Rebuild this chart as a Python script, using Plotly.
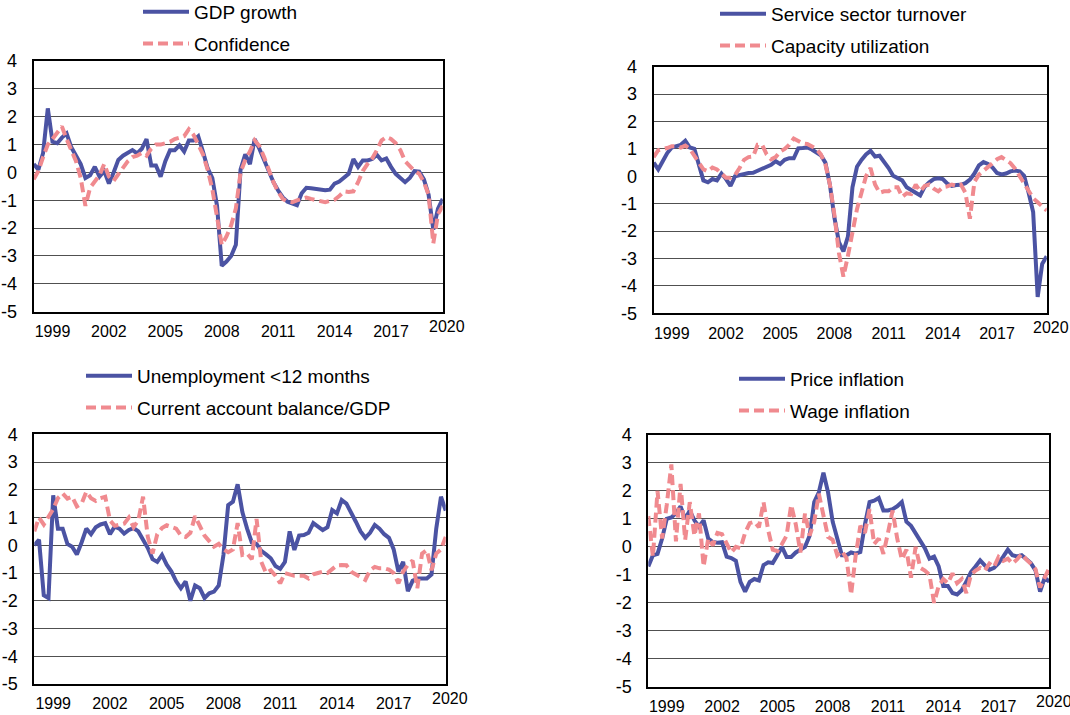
import plotly.graph_objects as go

# ---------------- data (quarterly, 1998Q1 .. 2019Q4 positions) ----------------
START_YEAR = 1998
N_Q = 88
quarters = [START_YEAR + i / 4 for i in range(N_Q)]

gdp_growth = [
    0.3, 0.1, 0.7, 2.3, 1.1, 1.05, 1.25, 1.4,
    0.9, 0.6, 0.3, -0.2, -0.1, 0.2, -0.15, 0.05,
    -0.4, 0.0, 0.45, 0.6, 0.72, 0.8, 0.68, 0.85,
    1.2, 0.25, 0.25, -0.15, 0.4, 0.8, 0.8, 0.97,
    0.75, 1.15, 1.15, 1.3, 0.75, 0.15, -0.2, -1.2,
    -3.35, -3.2, -3.0, -2.6, 0.1, 0.65, 0.3, 1.2,
    0.85, 0.42, 0.05, -0.35, -0.65, -0.9, -1.05, -1.12,
    -1.18, -0.75, -0.55, -0.57, -0.59, -0.61, -0.64, -0.62,
    -0.4, -0.33, -0.17, -0.05, 0.48, 0.2, 0.43, 0.43,
    0.48, 0.63, 0.43, 0.5, 0.2, -0.05, -0.2, -0.35,
    -0.2, 0.05, 0.03, -0.25, -0.8, -2.05, -1.3, -0.95,
]
confidence = [
    -0.25, 0.05, 0.55, 1.0, 1.2, 1.4, 1.65, 1.2,
    0.75, 0.4, -0.2, -1.2, -0.55, -0.35, -0.1, 0.3,
    -0.15, -0.3, -0.05, 0.2, 0.4, 0.55, 0.6, 0.7,
    0.6, 0.85, 1.0, 1.0, 1.05, 1.1, 1.2, 1.25,
    1.3, 1.55, 1.35, 1.0, 0.65, 0.1, -0.6, -1.6,
    -2.6, -2.3, -1.9, -1.3, 0.0, 0.45, 0.75, 1.15,
    0.95, 0.55, 0.05, -0.35, -0.7, -0.95, -1.05, -1.07,
    -1.0, -0.95, -0.9, -0.95, -1.0, -1.05, -1.07, -1.02,
    -0.98, -0.85, -0.68, -0.7, -0.68, -0.35, 0.05, 0.3,
    0.5, 0.8, 1.15, 1.27, 1.2, 1.05, 0.8, 0.4,
    0.2, 0.05, -0.05, -0.35, -0.8, -2.55, -1.5, -1.2,
]
service_turnover = [
    0.5, 0.25, 0.55, 0.85, 1.05, 1.1, 1.15, 1.3,
    1.05, 1.0, 0.45, -0.15, -0.22, -0.1, -0.15, 0.1,
    -0.1, -0.35, 0.0, 0.05, 0.08, 0.12, 0.13, 0.2,
    0.3, 0.37, 0.42, 0.55, 0.45, 0.6, 0.66, 0.66,
    1.02, 1.03, 1.05, 0.98, 0.88, 0.77, 0.5, -0.3,
    -1.5, -2.4, -2.74, -2.2, -0.4, 0.35, 0.6, 0.8,
    0.93, 0.72, 0.75, 0.55, 0.3, 0.02, -0.08, -0.15,
    -0.4, -0.52, -0.6, -0.7, -0.38, -0.22, -0.1, -0.07,
    -0.1, -0.27, -0.35, -0.32, -0.31, -0.25, -0.12, 0.1,
    0.4, 0.52, 0.45, 0.32, 0.12, 0.07, 0.1, 0.18,
    0.21, 0.18, 0.02, -0.6, -1.3, -4.4, -3.2, -2.92,
]
capacity_utilization = [
    0.7, 0.95, 1.0, 1.03, 1.1, 1.1, 1.05, 1.12,
    1.0, 0.75, 0.45, 0.25, 0.18, 0.32, 0.25, 0.1,
    -0.05, -0.05, 0.05, 0.3, 0.6, 0.7, 0.72, 1.15,
    1.15, 0.8, 0.62, 0.7, 0.9, 1.0, 1.15, 1.38,
    1.3, 1.2, 1.18, 1.1, 1.0, 0.8, 0.45, -0.3,
    -1.4, -2.8, -3.66, -2.9, -2.1, -1.2, -0.6, 0.0,
    0.3, -0.3, -0.6, -0.55, -0.55, -0.4, -0.4, -0.75,
    -0.62, -0.65, -0.3, -0.55, -0.35, -0.3, -0.45, -0.55,
    -0.4, -0.37, -0.3, -0.35, -0.3, -0.6, -1.55, -0.2,
    0.06, 0.2, 0.38, 0.5, 0.62, 0.7, 0.6, 0.48,
    0.28, 0.0, -0.3, -0.55, -0.8, -0.95, -1.12, -1.25,
]
unemployment_short = [
    0.0, 0.2, -1.8, -1.9, 1.8, 0.6, 0.6, 0.05,
    -0.05, -0.33, 0.1, 0.6, 0.4, 0.65, 0.75, 0.8,
    0.4, 0.67, 0.6, 0.42, 0.55, 0.62, 0.5, 0.2,
    -0.1, -0.5, -0.6, -0.35, -0.7, -0.95, -1.3, -1.55,
    -1.3, -2.0, -1.45, -1.55, -1.9, -1.73, -1.67, -1.45,
    -0.35, 1.45, 1.57, 2.2, 1.2, 0.6, 0.1, 0.05,
    -0.2, -0.33, -0.47, -0.75, -0.85, -0.6, 0.5, -0.17,
    0.35, 0.37, 0.45, 0.8, 0.67, 0.55, 0.65, 1.27,
    1.15, 1.63, 1.5, 1.2, 0.85, 0.5, 0.27, 0.45,
    0.73, 0.6, 0.4, 0.27, -0.15, -0.95, -0.6, -1.65,
    -1.28, -1.2, -1.2, -1.2, -1.05, 0.6, 1.75, 1.25,
]
current_account = [
    0.5, 1.0, 0.75, 1.05, 1.3, 1.7, 1.87, 1.68,
    1.75, 1.4, 1.5, 1.93, 1.7, 1.6, 1.7, 1.75,
    0.9, 0.7, 0.73, 0.78, 1.0, 0.65, 0.9, 1.75,
    0.3, -0.3, 0.4, 0.62, 0.72, 0.67, 0.6, 0.35,
    0.3, 0.45, 1.05, 0.7, 0.35, 0.15, -0.05, 0.05,
    -0.15, -0.25, -0.15, 0.8, -0.35, -0.3, -0.5, 0.95,
    -0.6, -1.0, -0.9, -1.1, -1.37, -1.0, -1.05, -1.1,
    -1.1, -1.1, -1.2, -1.05, -1.0, -0.95, -1.0, -0.88,
    -0.72, -0.71, -0.72, -0.95, -1.05, -1.12, -1.25, -0.9,
    -0.78, -0.83, -0.83, -0.88, -1.0, -1.37, -0.95, -0.7,
    -0.55, -1.55, -0.3, -0.17, -0.9, -0.3, -0.15, 0.3,
]
price_inflation = [
    -0.7, -0.3, -0.25, 0.3, 1.0, 1.05, 1.2, 1.45,
    1.0, 1.3, 0.95, 0.72, 0.95, 0.3, 0.17, 0.15,
    0.17, -0.35, -0.4, -0.5, -1.25, -1.6, -1.25, -1.15,
    -1.2, -0.65, -0.55, -0.58, -0.3, 0.0, -0.36, -0.36,
    -0.2, -0.12, 0.0, 0.4, 1.6, 1.95, 2.65, 1.95,
    0.9, 0.3, -0.3, -0.3, -0.2, -0.24, -0.18, 0.8,
    1.6, 1.65, 1.75, 1.3, 1.3, 1.35, 1.45, 1.6,
    0.9, 0.75, 0.5, 0.2, -0.05, -0.42, -0.35, -0.7,
    -1.4, -1.4, -1.65, -1.7, -1.55, -1.25, -0.9, -0.7,
    -0.48, -0.66, -0.82, -0.75, -0.58, -0.35, -0.1, -0.3,
    -0.34, -0.3, -0.42, -0.58, -0.84, -1.6, -1.1, -1.25,
]
wage_inflation = [
    1.1, -0.35, 2.0, 0.3, 1.5, 2.95, 0.2, 2.25,
    0.25, 1.6, 0.4, 1.2, -0.7, 0.3, 0.05, 0.5,
    0.45, 0.15, -0.2, 0.0, -0.05, 0.5, 0.85, 0.9,
    0.7, 1.6, 0.6, -0.1, -0.15, 0.1, 0.4, 1.5,
    0.8, -0.2, 1.2, 0.4, 0.9, 1.9, 1.1, 0.35,
    0.25, -0.3, -0.15, -0.4, -1.7, -0.3, 0.75, 0.5,
    1.35, 0.1, 0.3, -0.25, 0.5, 1.3, 0.3, -0.45,
    -0.1, -1.1, 0.0, -0.75, -0.85, -1.0, -2.0, -1.4,
    -1.15, -1.3, -0.95, -1.3, -1.15, -1.65, -1.0, -0.85,
    -0.75, -0.85, -0.6, -0.72, -0.36, -0.5, -0.42, -0.6,
    -0.45, -0.25, -0.45, -0.6, -0.8, -1.45, -1.1, -0.75,
]

label_years = [1999, 2002, 2005, 2008, 2011, 2014, 2017, 2020]
grid_years = [2001, 2004, 2007, 2010, 2013, 2016, 2019]
minor_years = list(range(1999, 2020))
y_ticks = list(range(-5, 5))
y_ticktext = [str(v) for v in y_ticks]
Y_RANGE = [-5, 4]
X_RANGE = [quarters[0], quarters[-1]]

# ---------------- styling ----------------
W, H = 1070, 715
BLUE = "#4B53A3"
PINK = "#F08A8F"
FONT = "Liberation Sans, Arial, sans-serif"
GRID = "#505050"
LEG_ITEMWIDTH = 46
LEG_TEXT_OFFSET = LEG_ITEMWIDTH + 10   # px from legend x to text start
LEG_ROW_OFFSET = 20                    # px from legend top to first row centre
XLAB_SHIFT = 4

panels = [
    dict(names=("GDP growth", "Confidence"), series=(gdp_growth, confidence),
         box=(33.7, 61.0, 442.7, 311.7), leg=(194, 13)),
    dict(names=("Service sector turnover", "Capacity utilization"),
         series=(service_turnover, capacity_utilization),
         box=(653.7, 66.7, 1046.7, 313.3), leg=(771, 15)),
    dict(names=("Unemployment <12 months", "Current account balance/GDP"),
         series=(unemployment_short, current_account),
         box=(34.3, 434.3, 445.7, 684.0), leg=(137, 377)),
    dict(names=("Price inflation", "Wage inflation"),
         series=(price_inflation, wage_inflation),
         box=(648.3, 435.0, 1049.3, 686.7), leg=(790, 380)),
]


def sfx(i):
    return "" if i == 1 else str(i)


fig = go.Figure()
layout = dict(
    width=W, height=H, margin=dict(l=0, r=0, t=0, b=0, autoexpand=False),
    paper_bgcolor="white", plot_bgcolor="white",
    font=dict(family=FONT, color="black"),
    showlegend=True, annotations=[],
)

for k, p in enumerate(panels):
    xm, xg, xz, yi = 3 * k + 1, 3 * k + 2, 3 * k + 3, k + 1
    l, t, r, b = p["box"]
    xdom = [l / W, r / W]
    ydom = [1 - b / H, 1 - t / H]
    leg_name = "legend" + sfx(k + 1)

    for j, (name, vals, color, dash) in enumerate(zip(
            p["names"], p["series"], (BLUE, PINK), ("solid", "10px,5px"))):
        fig.add_trace(go.Scatter(
            x=quarters, y=vals, mode="lines", name=name,
            line=dict(color=color, width=4, dash=dash),
            xaxis="x" + sfx(xm), yaxis="y" + sfx(yi),
            legend=leg_name, legendgroup=f"g{k}{j}",
            hoverinfo="skip",
        ))

    # main x axis: labels + frame
    layout["xaxis" + sfx(xm)] = dict(
        domain=xdom, range=X_RANGE, anchor="y" + sfx(yi),
        tickmode="array", tickvals=label_years[:-1],
        ticktext=[str(v) for v in label_years[:-1]],
        showgrid=False, zeroline=False, ticks="",
        showline=True, linecolor="black", linewidth=2, mirror=True,
        tickfont=dict(size=16, family=FONT, color="black"),
        ticklabelstandoff=XLAB_SHIFT, automargin=False,
    )
    # vertical gridlines
    layout["xaxis" + sfx(xg)] = dict(
        overlaying="x" + sfx(xm), range=X_RANGE, anchor="y" + sfx(yi),
        tickmode="array", tickvals=grid_years, showticklabels=False,
        showgrid=True, gridcolor=GRID, gridwidth=1, zeroline=False,
        ticks="", showline=False, automargin=False,
    )
    # zero line with yearly tick marks
    zero_pos = ydom[0] + (0 - Y_RANGE[0]) / (Y_RANGE[1] - Y_RANGE[0]) * (ydom[1] - ydom[0])
    layout["xaxis" + sfx(xz)] = dict(
        overlaying="x" + sfx(xm), range=X_RANGE, anchor="free",
        position=zero_pos, side="bottom",
        tickmode="array", tickvals=minor_years, showticklabels=False,
        ticks="inside", ticklen=4, tickwidth=1.5, tickcolor="black",
        showgrid=False, zeroline=False, automargin=False,
        showline=True, linecolor="black", linewidth=1.5,
    )
    layout["yaxis" + sfx(yi)] = dict(
        domain=ydom, range=Y_RANGE, anchor="x" + sfx(xm),
        tickmode="array", tickvals=y_ticks, ticktext=y_ticktext,
        showgrid=True, gridcolor=GRID, gridwidth=1, zeroline=False,
        ticks="", showline=True, linecolor="black", linewidth=2, mirror=True,
        tickfont=dict(size=18, family=FONT, color="black"),
        ticklabelstandoff=11, automargin=False,
    )
    # last year label sits just beyond the axis end
    layout["annotations"].append(dict(
        text=str(label_years[-1]), showarrow=False,
        xref="x" + sfx(xm) + " domain", yref="y" + sfx(yi) + " domain",
        x=(label_years[-1] - X_RANGE[0]) / (X_RANGE[1] - X_RANGE[0]), y=0,
        xanchor="center", yanchor="top", yshift=-XLAB_SHIFT,
        font=dict(size=16, family=FONT, color="black"),
    ))
    tx, ty = p["leg"]
    layout[leg_name] = dict(
        xref="paper", yref="paper",
        x=(tx - LEG_TEXT_OFFSET) / W, y=1 - (ty - LEG_ROW_OFFSET) / H,
        xanchor="left", yanchor="top", bgcolor="rgba(0,0,0,0)",
        font=dict(size=19, family=FONT, color="black"),
        itemwidth=LEG_ITEMWIDTH, tracegroupgap=4, orientation="v",
    )

fig.update_layout(**layout)
fig.write_html("out.html", config={"displayModeBar": False},
               post_script="document.body.style.margin='0';")
